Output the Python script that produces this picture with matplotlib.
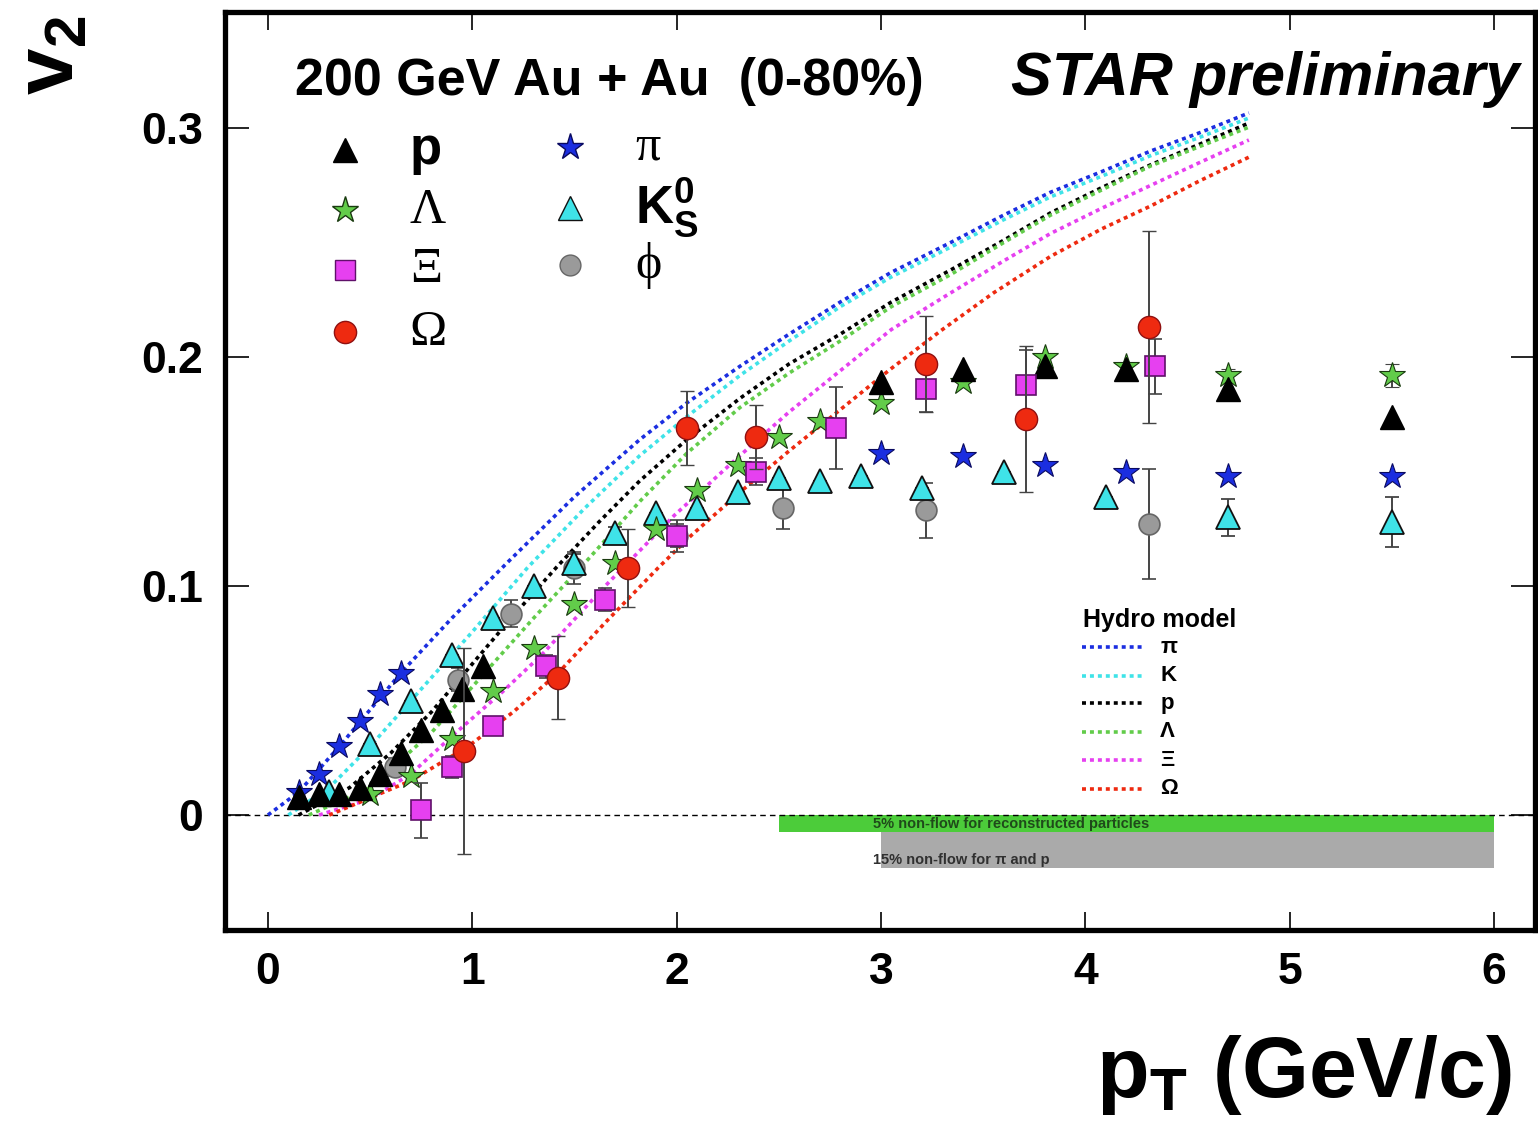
import matplotlib
matplotlib.use("Agg")
import matplotlib.pyplot as plt

plt.rcParams['font.family'] = ['Liberation Sans', 'DejaVu Sans']
plt.rcParams['mathtext.fontset'] = 'custom'
plt.rcParams['mathtext.rm'] = 'Liberation Sans'
plt.rcParams['mathtext.bf'] = 'Liberation Sans:bold'
plt.rcParams['mathtext.it'] = 'Liberation Sans:italic'

#---------- data points (pT, v2, error) ----------
p_x = [0.15, 0.25, 0.35, 0.45, 0.55, 0.65, 0.75, 0.85, 0.95, 1.05, 3.0, 3.4, 3.8, 4.2, 4.7, 5.5]
p_y = [0.008, 0.009, 0.009, 0.012, 0.018, 0.027, 0.037, 0.046, 0.055, 0.065, 0.189, 0.195, 0.196, 0.195, 0.186, 0.174]

lam_x = [0.5, 0.7, 0.9, 1.1, 1.3, 1.5, 1.7, 1.9, 2.1, 2.3, 2.5, 2.7, 3.0, 3.4, 3.8, 4.2, 4.7, 5.5]
lam_y = [0.009, 0.017, 0.033, 0.054, 0.073, 0.092, 0.110, 0.125, 0.142, 0.153, 0.165, 0.172, 0.180, 0.189, 0.200, 0.196, 0.192, 0.192]
lam_e = [0, 0, 0, 0, 0, 0, 0, 0, 0, 0, 0, 0, 0, 0, 0, 0, 0.003, 0.005]

xi_x = [0.75, 0.9, 1.1, 1.36, 1.65, 2.0, 2.39, 2.78, 3.22, 3.71, 4.34]
xi_y = [0.002, 0.021, 0.039, 0.065, 0.094, 0.122, 0.150, 0.169, 0.186, 0.188, 0.196]
xi_e = [0.012, 0.005, 0.004, 0.005, 0.005, 0.005, 0.006, 0.018, 0.010, 0.015, 0.012]

om_x = [0.96, 1.42, 1.76, 2.05, 2.39, 3.22, 3.71, 4.31]
om_y = [0.028, 0.060, 0.108, 0.169, 0.165, 0.197, 0.173, 0.213]
om_e = [0.045, 0.018, 0.017, 0.016, 0.014, 0.021, 0.032, 0.042]

pi_x = [0.15, 0.25, 0.35, 0.45, 0.55, 0.65, 3.0, 3.4, 3.8, 4.2, 4.7, 5.5]
pi_y = [0.010, 0.018, 0.030, 0.041, 0.053, 0.062, 0.158, 0.157, 0.153, 0.150, 0.148, 0.148]

k_x = [0.3, 0.5, 0.7, 0.9, 1.1, 1.3, 1.5, 1.7, 1.9, 2.1, 2.3, 2.5, 2.7, 2.9, 3.2, 3.6, 4.1, 4.7, 5.5]
k_y = [0.010, 0.031, 0.050, 0.070, 0.086, 0.100, 0.110, 0.123, 0.132, 0.134, 0.141, 0.147, 0.146, 0.148, 0.143, 0.150, 0.139, 0.130, 0.128]
k_e = [0, 0, 0, 0, 0, 0, 0.004, 0.003, 0, 0, 0, 0, 0, 0, 0, 0, 0, 0.008, 0.011]

phi_x = [0.62, 0.93, 1.19, 1.5, 2.0, 2.52, 3.22, 4.31]
phi_y = [0.021, 0.059, 0.088, 0.108, 0.122, 0.134, 0.133, 0.127]
phi_e = [0.004, 0.005, 0.006, 0.007, 0.007, 0.009, 0.012, 0.024]

#---------- hydro model curves ----------
hpi_x = [0.0, 0.15, 0.35, 0.65, 0.9, 1.18, 1.5, 1.82, 2.05, 2.31, 2.55, 2.8, 3.05, 3.34, 3.6, 3.83, 4.08, 4.32, 4.56, 4.8]
hpi_y = [0.0, 0.010, 0.030, 0.062, 0.086, 0.111, 0.139, 0.164, 0.180, 0.196, 0.210, 0.224, 0.237, 0.250, 0.262, 0.272, 0.281, 0.290, 0.298, 0.3066]
hk_x = [0.1, 0.3, 0.5, 0.7, 1.0, 1.27, 1.55, 1.82, 2.05, 2.31, 2.55, 2.8, 3.05, 3.34, 3.6, 3.83, 4.08, 4.32, 4.56, 4.8]
hk_y = [0.0, 0.012, 0.030, 0.050, 0.080, 0.108, 0.134, 0.157, 0.174, 0.192, 0.207, 0.222, 0.235, 0.248, 0.260, 0.270, 0.279, 0.288, 0.296, 0.3044]
hp_x = [0.15, 0.4, 0.6, 0.8, 1.0, 1.2, 1.41, 1.62, 1.82, 2.05, 2.31, 2.55, 2.8, 3.05, 3.34, 3.6, 3.83, 4.08, 4.32, 4.56, 4.8]
hp_y = [0.0, 0.012, 0.027, 0.045, 0.066, 0.087, 0.108, 0.128, 0.146, 0.164, 0.182, 0.197, 0.210, 0.224, 0.238, 0.251, 0.263, 0.274, 0.284, 0.293, 0.3022]
hlam_x = [0.2, 0.5, 0.8, 1.04, 1.3, 1.57, 1.82, 2.05, 2.31, 2.55, 2.8, 3.05, 3.34, 3.6, 3.83, 4.08, 4.32, 4.56, 4.8]
hlam_y = [0.0, 0.012, 0.036, 0.060, 0.086, 0.112, 0.137, 0.158, 0.178, 0.193, 0.207, 0.222, 0.236, 0.250, 0.262, 0.273, 0.2835, 0.292, 0.3004]
hxi_x = [0.25, 0.5, 0.7, 0.92, 1.15, 1.34, 1.65, 1.99, 2.31, 2.55, 2.8, 3.05, 3.34, 3.6, 3.83, 4.08, 4.32, 4.56, 4.8]
hxi_y = [0.0, 0.007, 0.018, 0.036, 0.054, 0.070, 0.100, 0.131, 0.157, 0.176, 0.194, 0.212, 0.228, 0.242, 0.254, 0.265, 0.275, 0.285, 0.2948]
hom_x = [0.3, 0.7, 0.98, 1.2, 1.42, 1.65, 1.91, 2.07, 2.31, 2.55, 2.8, 3.05, 3.3, 3.55, 3.83, 4.08, 4.32, 4.56, 4.8]
hom_y = [0.0, 0.015, 0.030, 0.045, 0.062, 0.084, 0.108, 0.122, 0.141, 0.159, 0.177, 0.195, 0.212, 0.228, 0.244, 0.256, 0.266, 0.277, 0.2873]

#---------- colours ----------
c_blue = '#1b2ee0'
c_cyan = '#3fe3e8'
c_green = '#62cc4a'
c_mag = '#e640f0'
c_red = '#ee2a10'
c_grey = '#9a9a9a'

fig = plt.figure(figsize=(15.38, 11.43), dpi=100)
ax = fig.add_axes([225/1538, 1-930/1143, 1310/1538, 918/1143])
ax.set_xlim(-0.21, 6.2)
ax.set_ylim(-0.0502, 0.3507)

# non-flow bands
ax.fill_between([2.5, 6.0], -0.0075, 0, color='#4ccc3a', lw=0, zorder=1)
ax.fill_between([3.0, 6.0], -0.023, -0.0075, color='#aaaaaa', lw=0, zorder=1)
ax.text(2.96, -0.0040, '5% non-flow for reconstructed particles', fontsize=10.5,
        fontweight='bold', color='#1f4a1a', va='center', zorder=2)
ax.text(2.96, -0.0195, '15% non-flow for π and p', fontsize=10.5,
        fontweight='bold', color='#303030', va='center', zorder=2)
ax.axhline(0, color='black', lw=1.0, ls=(0, (4, 3)), zorder=2)

# hydro curves
dots = (0, (1.1, 1.1))
ax.plot(hpi_x, hpi_y, color=c_blue, lw=2.6, ls=dots, zorder=3)
ax.plot(hk_x, hk_y, color=c_cyan, lw=2.6, ls=dots, zorder=3)
ax.plot(hp_x, hp_y, color='black', lw=2.6, ls=dots, zorder=3)
ax.plot(hlam_x, hlam_y, color=c_green, lw=2.6, ls=dots, zorder=3)
ax.plot(hxi_x, hxi_y, color=c_mag, lw=2.6, ls=dots, zorder=3)
ax.plot(hom_x, hom_y, color=c_red, lw=2.6, ls=dots, zorder=3)

eb = dict(ecolor='#444444', elinewidth=1.4, capsize=5, capthick=1.4, ls='none')
ax.errorbar(phi_x, phi_y, yerr=phi_e, fmt='o', ms=15, mfc=c_grey, mec='#666666', mew=1.2, zorder=4, **eb)
ax.errorbar(k_x, k_y, yerr=k_e, fmt='^', ms=17, mfc=c_cyan, mec='#111111', mew=1.3, zorder=5, **eb)
ax.plot(pi_x, pi_y, '*', ms=19, mfc=c_blue, mec='#0a0a60', mew=0.8, ls='none', zorder=5)
ax.errorbar(lam_x, lam_y, yerr=lam_e, fmt='*', ms=19, mfc=c_green, mec='#1a3a10', mew=0.8, zorder=5, **eb)
ax.plot(p_x, p_y, '^', ms=17, mfc='black', mec='black', ls='none', zorder=6)
ax.errorbar(xi_x, xi_y, yerr=xi_e, fmt='s', ms=15, mfc=c_mag, mec='#60106a', mew=1.2, zorder=6, **eb)
ax.errorbar(om_x, om_y, yerr=om_e, fmt='o', ms=16, mfc=c_red, mec='#901010', mew=1.0, zorder=7, **eb)

# axes styling
for s in ax.spines.values():
    s.set_linewidth(3.8)
ax.set_xticks([0, 1, 2, 3, 4, 5, 6])
ax.set_yticks([0, 0.1, 0.2, 0.3])
ax.set_yticklabels(['0', '0.1', '0.2', '0.3'])
ax.tick_params(axis='x', direction='in', length=13, width=1.2, top=True, labelsize=32, pad=16)
ax.tick_params(axis='y', direction='in', length=17, width=1.2, right=True, labelsize=32, pad=16)
for lab in ax.get_xticklabels() + ax.get_yticklabels():
    lab.set_fontweight('bold')

fig.text(0.034, 1-55/1143, r'$\mathbf{v_2}$', fontsize=60, rotation=90, ha='center', va='center')
fig.text(1512/1538, 1-1097/1143, r'$\mathbf{p_{T}}$ (GeV/c)', fontsize=62, fontweight='bold',
         ha='right', va='baseline')

# legend in the plot
tr = ax.transAxes
ax.text(0.0534, 0.924, '200 GeV Au + Au  (0-80%)', transform=tr, fontsize=37.5, fontweight='bold', va='center')
ax.text(0.9885, 0.926, 'STAR preliminary', transform=tr, fontsize=44, fontweight='bold',
        style='italic', ha='right', va='center')

leg = [(0.0916, 0.850, '^', 'black', 'black', 17, 'p', 'sans'),
       (0.0916, 0.784, '*', c_green, '#1a3a10', 20, 'Λ', 'serif'),
       (0.0916, 0.719, 's', c_mag, '#60106a', 15, 'Ξ', 'serif'),
       (0.0916, 0.651, 'o', c_red, '#901010', 16, 'Ω', 'serif'),
       (0.2634, 0.853, '*', c_blue, '#0a0a60', 20, 'π', 'serif'),
       (0.2634, 0.787, '^', c_cyan, '#111111', 17, r'$\mathbf{K^0_S}$', 'sans'),
       (0.2634, 0.724, 'o', c_grey, '#666666', 15, 'ϕ', 'serif')]
for lx, ly, m, fc, ec, ms, lab, fam in leg:
    ax.plot([lx], [ly], m, ms=ms, mfc=fc, mec=ec, transform=tr, zorder=8, clip_on=False)
    tx = lx + 0.0495
    if fam == 'serif':
        ax.text(tx, ly, lab, transform=tr, fontsize=36, family='Liberation Serif', va='center')
    else:
        ax.text(tx, ly, lab, transform=tr, fontsize=38, fontweight='bold', va='center')

# hydro model legend
ax.text(0.655, 0.338, 'Hydro model', transform=tr, fontsize=18, fontweight='bold', va='center')
hyd = [(c_blue, 'π'), (c_cyan, 'K'), ('black', 'p'), (c_green, 'Λ'), (c_mag, 'Ξ'), (c_red, 'Ω')]
rows = [0.308, 0.277, 0.247, 0.216, 0.185, 0.154]
for (col, lab), ry in zip(hyd, rows):
    ax.plot([0.654, 0.700], [ry, ry], color=col, lw=2.6, ls=dots, transform=tr)
    ax.text(0.714, ry, lab, transform=tr, fontsize=16, fontweight='bold', va='center')

fig.savefig('out.png', dpi=100)
